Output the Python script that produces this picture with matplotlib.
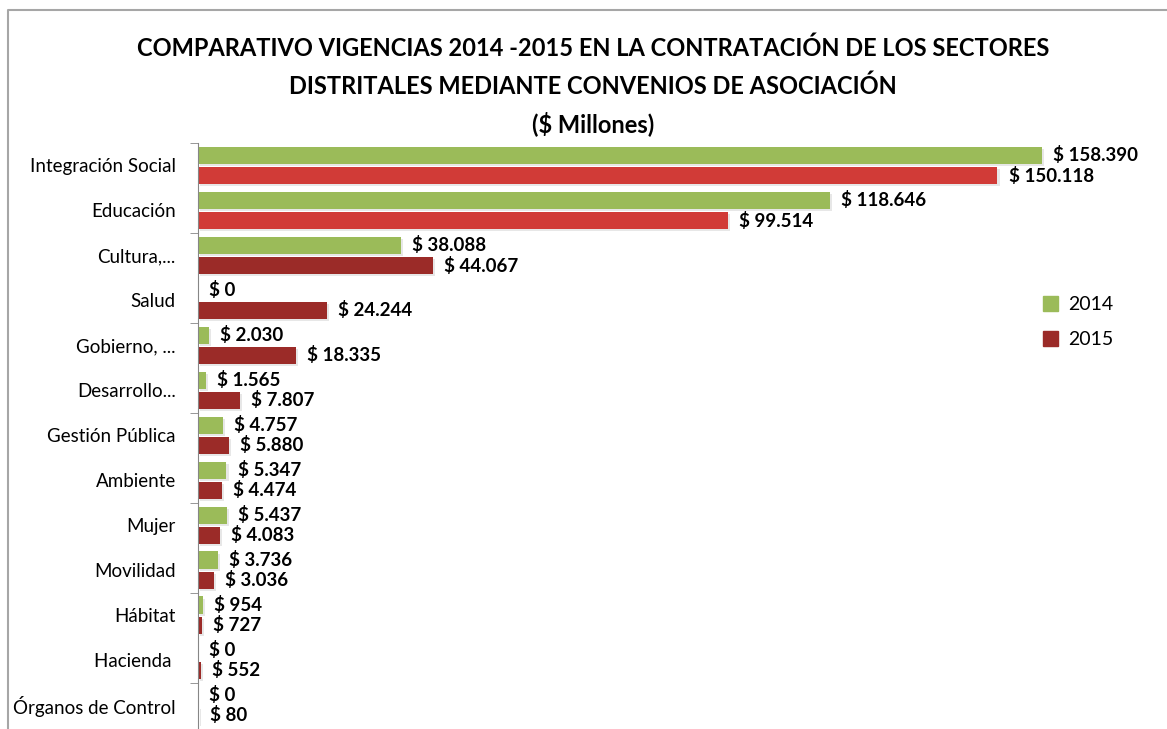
import numpy as np
import matplotlib.pyplot as plt
import matplotlib.patheffects as pe
from matplotlib.lines import Line2D
from matplotlib.patches import Patch

sectores = ['Integración Social', 'Educación', 'Cultura,...', 'Salud', 'Gobierno, ...',
            'Desarrollo...', 'Gestión Pública', 'Ambiente', 'Mujer', 'Movilidad',
            'Hábitat', 'Hacienda ', 'Órganos de Control']
v2014 = [158390, 118646, 38088, 0, 2030, 1565, 4757, 5347, 5437, 3736, 954, 0, 0]
v2015 = [150118, 99514, 44067, 24244, 18335, 7807, 5880, 4474, 4083, 3036, 727, 552, 80]

verde = '#9bbb59'
rojo_claro = '#d13b37'
rojo = '#9b2b28'
fuente = ['Lato', 'DejaVu Sans']

fig = plt.figure(figsize=(11.67, 7.29), dpi=100)
ax = fig.add_axes([198 / 1167, 1.5 / 729, (1130 - 198) / 1167, (727.5 - 143) / 729])

y = np.arange(len(sectores))
sombra = [pe.withSimplePatchShadow(offset=(1.5, -1.5), shadow_rgbFace='#888888', alpha=0.2)]
col2015 = [rojo_claro if i < 2 else rojo for i in range(len(sectores))]
b1 = ax.barh(y - 0.225, v2014, height=0.38, color=verde, path_effects=sombra)
b2 = ax.barh(y + 0.225, v2015, height=0.38, color=col2015, path_effects=sombra)

def fmt(v):
    return '$ ' + f'{v:,}'.replace(',', '.')

for barras, vals in ((b1, v2014), (b2, v2015)):
    for b, v in zip(barras, vals):
        ax.annotate(fmt(v), (b.get_width(), b.get_y() + b.get_height() / 2),
                    xytext=(8, 0), textcoords='offset points', va='center', ha='left',
                    fontsize=13.5, fontweight='bold', family=fuente)

ax.set_xlim(0, 175000)
ax.set_ylim(len(sectores) - 0.5, -0.5)
ax.set_yticks(y)
ax.set_yticklabels(sectores, family=fuente, fontsize=13.5)
ax.tick_params(axis='y', which='major', length=0, pad=16)
ax.set_yticks(np.arange(-0.5, len(sectores), 2), minor=True)
ax.tick_params(axis='y', which='minor', length=6, color='#868686', direction='out')
ax.set_xticks([])
for s in ['top', 'right', 'bottom']:
    ax.spines[s].set_visible(False)
ax.spines['left'].set_color('#868686')

titulo = ['COMPARATIVO VIGENCIAS 2014 -2015 EN LA CONTRATACIÓN DE LOS SECTORES',
          'DISTRITALES MEDIANTE CONVENIOS DE ASOCIACIÓN',
          '($ Millones)']
for linea, yp in zip(titulo, (48, 86, 124)):
    fig.text(0.508, 1 - yp / 729, linea, ha='center', va='center', fontsize=17,
             fontweight='bold', family=fuente)

fig.legend(handles=[Patch(color=verde, label='2014'), Patch(color=rojo, label='2015')],
           loc='center left', bbox_to_anchor=(1025 / 1167, 1 - 322 / 729), frameon=False,
           prop={'family': fuente, 'size': 14}, handlelength=0.8, handleheight=0.8,
           handletextpad=0.5, labelspacing=0.9)

fig.add_artist(Line2D([8 / 1167, 8 / 1167, 1], [0, 1 - 10 / 729, 1 - 10 / 729],
                      color='#a6a6a6', lw=1.5, transform=fig.transFigure))

fig.savefig('out.png', dpi=100)
